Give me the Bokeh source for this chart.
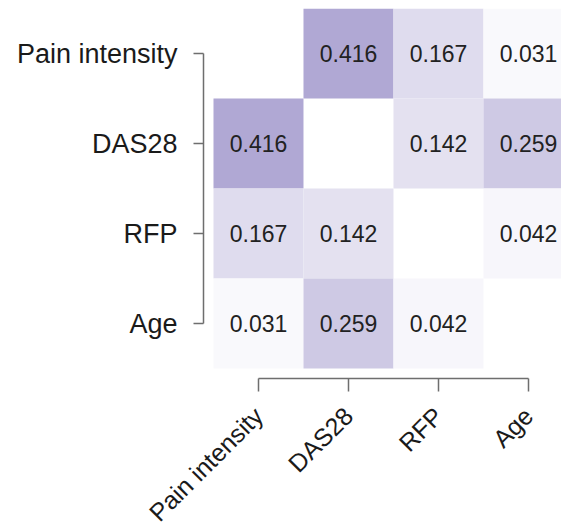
import numpy as np
from bokeh.plotting import figure
from bokeh.models import ColumnDataSource, Range1d, FixedTicker, LinearColorMapper
from bokeh.transform import transform
from bokeh.core.properties import value
from bokeh.embed import file_html
from bokeh.resources import INLINE

variables = ["Pain intensity", "DAS28", "RFP", "Age"]
matrix = [
    [None, 0.416, 0.167, 0.031],
    [0.416, None, 0.142, 0.259],
    [0.167, 0.142, None, 0.042],
    [0.031, 0.259, 0.042, None],
]

xs, ys, vals, labels = [], [], [], []
for i, row in enumerate(matrix):
    for j, v in enumerate(row):
        if v is None:
            continue
        xs.append(j)
        ys.append(i)
        vals.append(v)
        labels.append(f"{v:.3f}")

src = ColumnDataSource(dict(x=xs, y=ys, v=vals, label=labels))

# palette interpolated from white to lavender
c0 = np.array([255, 255, 255])
c1 = np.array([0xb0, 0xa8, 0xd4])
palette = []
for t in np.linspace(0, 1, 256):
    c = (c0 + (c1 - c0) * t).round().astype(int)
    palette.append("#%02x%02x%02x" % tuple(c))
mapper = LinearColorMapper(palette=palette, low=0, high=max(vals))

p = figure(
    output_backend="svg", toolbar_location=None,
    frame_width=358, frame_height=370,
    x_range=Range1d(-0.611, 3.367), y_range=Range1d(3.611, -0.5),
    min_border_left=203, min_border_right=0, min_border_top=8, min_border_bottom=100,
)
p.outline_line_color = None
p.grid.visible = False
p.background_fill_color = "white"

p.rect(x="x", y="y", width=1.0, height=1.0, source=src,
       fill_color=transform("v", mapper), line_color=None)
p.text(x="x", y="y", text="label", source=src, text_align="center",
       text_baseline="middle", text_font_size="23px",
       text_font=value("Liberation Sans"), text_color="#222222")

overrides = {i: name for i, name in enumerate(variables)}
for ax in (p.xaxis[0], p.yaxis[0]):
    ax.ticker = FixedTicker(ticks=[0, 1, 2, 3])
    ax.major_label_overrides = overrides
    ax.bounds = (0, 3)
    ax.minor_tick_line_color = None
    ax.axis_line_color = "#6e6e6e"
    ax.major_tick_line_color = "#6e6e6e"
    ax.axis_line_width = 1.5
    ax.major_tick_line_width = 1.5
    ax.major_tick_in = 0
    ax.major_label_text_font = "Liberation Sans"
    ax.major_label_text_font_size = "27px"
    ax.major_label_text_color = "#1a1a1a"

p.xaxis[0].major_label_text_font_size = "25px"
p.yaxis[0].major_tick_out = 10
p.yaxis[0].major_label_standoff = 16
p.xaxis[0].major_tick_out = 13
p.xaxis[0].major_label_standoff = 20
p.xaxis[0].major_label_orientation = np.pi / 4

open("out.html", "w").write(file_html(p, INLINE))
